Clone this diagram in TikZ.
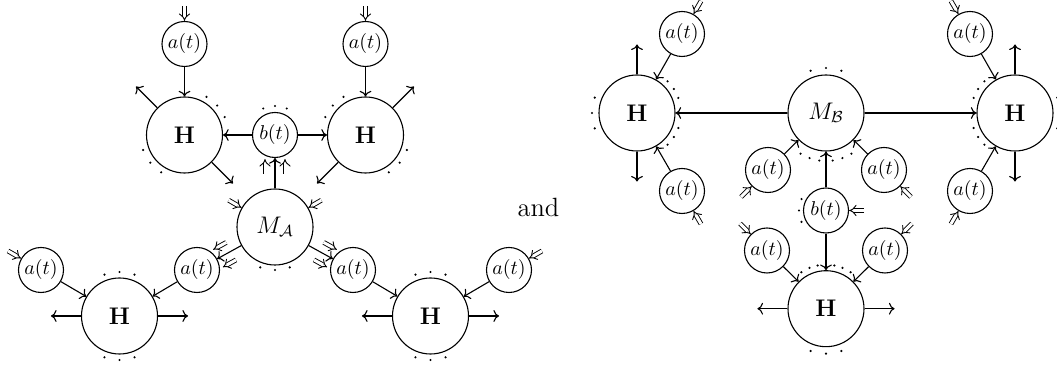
\documentclass[tikz,border=0pt]{standalone}
\usepackage{amsmath,amssymb}
\usetikzlibrary{positioning,arrows.meta,calc}

% dots on an arc round a node: node, radius, angles
\newcommand\arcdots[3]{\foreach \ang in {#3} \fill ($(#1)+(\ang:#2)$) circle (0.6pt);}
% short double arrow into a node at an angle
\newcommand\inarrow[2]{%
  \coordinate (#1-in#2) at ($(#1.#2)+(#2:7.5pt)$);
  \draw[dbl] (#1-in#2) -- (#1.#2);}
% plain arrow out of a node at an angle
\newcommand\outarrow[2]{%
  \coordinate (#1-out#2) at ($(#1.#2)+(#2:15pt)$);
  \draw[->] (#1.#2) -- (#1-out#2);}
% connector with a double arrow on each side
\newcommand\flanked[2]{%
  \draw[->] (#1) -- (#2);
  \coordinate (fe) at ($(#2)!12pt!(#1)$);
  \coordinate (fs) at ($(#2)!19.5pt!(#1)$);
  \draw[dbl] ($(fs)!5pt!90:(#1)$) -- ($(fe)!5pt!90:(#1)$);
  \draw[dbl] ($(fs)!5pt!-90:(#1)$) -- ($(fe)!5pt!-90:(#1)$);}

\begin{document}
\begin{tikzpicture}[x=0.5pt,y=0.5pt,line width=0.55pt,
    bignode/.style={circle,draw,minimum size=38pt,inner sep=0pt,font=\large},
    smallnode/.style={circle,draw,minimum size=22.5pt,inner sep=0pt},
    dbl/.style={double,line width=0.45pt,double distance=1.5pt,-{Implies}}]
  \useasboundingbox (0,0) rectangle (1057,368);

  % first picture
  \node[bignode] (Hl1) at (184.5,233) {$\mathbf{H}$};
  \node[bignode] (Hl2) at (365.5,233) {$\mathbf{H}$};
  \node[smallnode] (at1) at (184.5,324) {$a(t)$};
  \node[smallnode] (at2) at (365.5,324) {$a(t)$};
  \node[smallnode] (bt) at (275,233) {$b(t)$};
  \node[bignode] (MA) at (275,141) {$M_{\mathcal{A}}$};
  \node[smallnode] (al1) at (41,98) {$a(t)$};
  \node[smallnode] (al2) at (197,98) {$a(t)$};
  \node[smallnode] (ar1) at (353,98) {$a(t)$};
  \node[smallnode] (ar2) at (509,98) {$a(t)$};
  \node[bignode] (Hb1) at (119.5,52) {$\mathbf{H}$};
  \node[bignode] (Hb2) at (430.5,52) {$\mathbf{H}$};

  \draw[->] (at1) -- (Hl1);
  \draw[->] (at2) -- (Hl2);
  \draw[->] (bt) -- (Hl1);
  \draw[->] (bt) -- (Hl2);
  \flanked{MA}{bt}
  \flanked{MA}{al2}
  \flanked{MA}{ar1}
  \draw[->] (al1) -- (Hb1);
  \draw[->] (al2) -- (Hb1);
  \draw[->] (ar1) -- (Hb2);
  \draw[->] (ar2) -- (Hb2);

  \outarrow{Hl1}{135} \outarrow{Hl1}{315}
  \outarrow{Hl2}{45} \outarrow{Hl2}{225}
  \outarrow{Hb1}{0} \outarrow{Hb1}{180}
  \outarrow{Hb2}{0} \outarrow{Hb2}{180}

  \inarrow{at1}{90} \inarrow{at2}{90}
  \inarrow{MA}{150} \inarrow{MA}{30}
  \inarrow{al1}{150} \inarrow{ar2}{30}

  \arcdots{Hl1}{22pt}{24,42,60,200,219,238}
  \arcdots{Hl2}{22pt}{120,138,156,302,321,340}
  \arcdots{bt}{14.5pt}{66,90,114}
  \arcdots{MA}{21.5pt}{250,270,290}
  \arcdots{Hb1}{22pt}{70,90,110,250,270,290}
  \arcdots{Hb2}{22pt}{70,90,110,250,270,290}

  \node[anchor=base,font=\fontsize{13.2}{16}\selectfont] (and) at (538.5,151.5) {and};

  % second picture
  \node[bignode] (MB) at (826,255) {$M_{\mathcal{B}}$};
  \node[bignode] (HL) at (637,255) {$\mathbf{H}$};
  \node[bignode] (HR) at (1015,255) {$\mathbf{H}$};
  \node[smallnode] (aTL) at (682,334) {$a(t)$};
  \node[smallnode] (aBL) at (682,177) {$a(t)$};
  \node[smallnode] (aTR) at (970,334) {$a(t)$};
  \node[smallnode] (aBR) at (970,177) {$a(t)$};
  \node[smallnode] (am1) at (768,198) {$a(t)$};
  \node[smallnode] (am2) at (884,198) {$a(t)$};
  \node[smallnode] (bB) at (826,157.5) {$b(t)$};
  \node[bignode] (Hbot) at (826,59.3) {$\mathbf{H}$};
  \node[smallnode] (ab1) at (767,117.5) {$a(t)$};
  \node[smallnode] (ab2) at (885,117.5) {$a(t)$};

  \draw[->] (MB) -- (HL);
  \draw[->] (MB) -- (HR);
  \draw[->] (aTL) -- (HL);
  \draw[->] (aBL) -- (HL);
  \draw[->] (aTR) -- (HR);
  \draw[->] (aBR) -- (HR);
  \draw[->] (am1) -- (MB);
  \draw[->] (am2) -- (MB);
  \draw[->] (bB) -- (MB);
  \draw[->] (bB) -- (Hbot);
  \draw[->] (ab1) -- (Hbot);
  \draw[->] (ab2) -- (Hbot);

  \outarrow{HL}{90} \outarrow{HL}{270}
  \outarrow{HR}{90} \outarrow{HR}{270}
  \outarrow{Hbot}{0} \outarrow{Hbot}{180}

  \inarrow{aTL}{60} \inarrow{aBL}{300}
  \inarrow{aTR}{120} \inarrow{aBR}{240}
  \inarrow{am1}{225} \inarrow{am2}{315}
  \inarrow{ab1}{135} \inarrow{ab2}{45}
  \inarrow{bB}{0}

  \arcdots{HL}{22.5pt}{160,180,200}
  \arcdots{HL}{22pt}{20,33,46,314,327,340}
  \arcdots{HR}{22.5pt}{20,0,340}
  \arcdots{HR}{22pt}{134,147,160,200,213,226}
  \arcdots{MB}{22.5pt}{70,90,110}
  \arcdots{MB}{24pt}{238,250,262,278,290,302}
  \arcdots{bB}{13.5pt}{155,180,205}
  \arcdots{Hbot}{22pt}{56,68,79,101,112,124}
  \arcdots{Hbot}{22.5pt}{250,270,290}
\end{tikzpicture}
\end{document}
